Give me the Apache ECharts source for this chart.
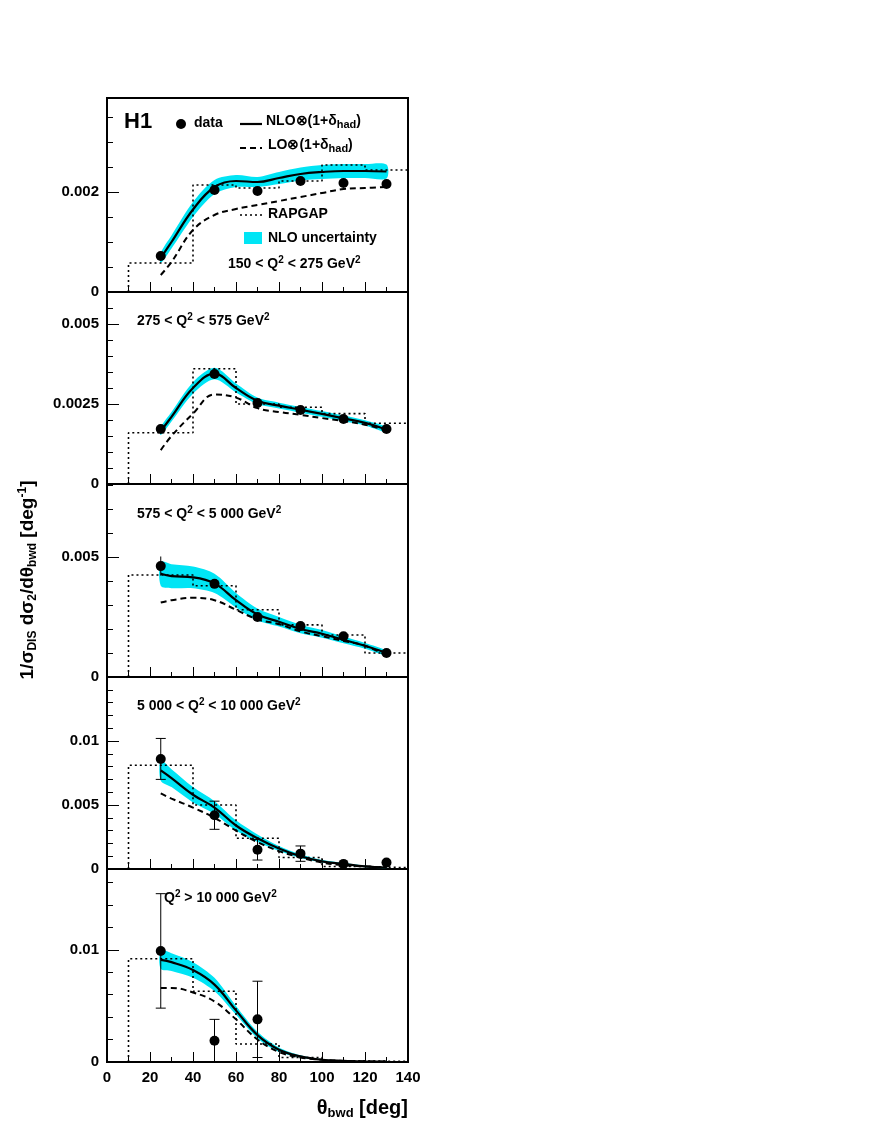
<!DOCTYPE html><html><head><meta charset="utf-8"><script src="https://cdn.jsdelivr.net/npm/echarts@6/dist/echarts.min.js"></script>
<style>body{margin:0;background:#fff}#c{width:884px;height:1144px}</style></head><body><div id="c"></div><script>
// ---- data ----
const dataX = [25,50,70,90,110,130];
const dataY = [
 [0.00072,0.00204,0.00202,0.00222,0.00218,0.00216],
 [0.00172,0.00344,0.00253,0.00231,0.00203,0.00172],
 [0.00462,0.00388,0.0025,0.00212,0.0017,0.0010],
 [0.0086,0.0042,0.0015,0.0012,0.0004,0.0005],
 [0.0099,0.0019,0.0038,null,null,null]
];
const dataErr = [
 [0.00004,0.00005,0.00005,0.00005,0.00005,0.00005],
 [0.00008,0.00008,0.00006,0.00006,0.00006,0.00005],
 [0.0004,0.00015,0.0001,0.0001,0.0001,0.00008],
 [0.0016,0.0011,0.0008,0.0006,0.0002,0.0002],
 [0.0051,0.0019,0.0034,null,null,null]
];
const curveX = [25,30,40,50,60,70,80,90,100,110,120,130];
const nlo = [
 [0.00068,0.0010,0.00165,0.0021,0.00222,0.00220,0.00228,0.00236,0.00240,0.00242,0.00242,0.00241],
 [0.00165,0.0021,0.0030,0.00345,0.0030,0.0026,0.00245,0.00232,0.00219,0.00205,0.00191,0.00170],
 [0.0043,0.0042,0.00415,0.0039,0.0032,0.0026,0.0023,0.0020,0.0018,0.00155,0.0013,0.0010],
 [0.0077,0.0071,0.0058,0.0048,0.0034,0.0024,0.0016,0.0010,0.0006,0.0004,0.0002,0.0001],
 [0.0091,0.0089,0.0082,0.0069,0.0046,0.0024,0.0011,0.0005,0.0002,0.0001,0.00005,0.00003]
];
const nloHalf = [
 [0.0001,0.00013,0.00015,0.00014,0.00012,0.0001,0.00012,0.00013,0.00014,0.00014,0.00014,0.00014],
 [0.00012,0.00015,0.00018,0.00018,0.00014,0.0001,0.00009,0.00009,0.00009,0.00009,0.00008,0.00008],
 [0.0005,0.0005,0.00045,0.0004,0.0003,0.00025,0.0002,0.00018,0.00016,0.00014,0.00012,0.0001],
 [0.0008,0.0007,0.0006,0.0005,0.0004,0.0003,0.0002,0.00015,0.0001,0.00008,0.00006,0.00004],
 [0.0008,0.0008,0.0007,0.0006,0.0004,0.0003,0.0002,0.0001,0.00005,0.00003,0.00002,0.00001]
];
const lo = [
 [0.00034,0.0006,0.00124,0.00154,0.00166,0.00174,0.00182,0.0019,0.00198,0.00206,0.00208,0.0021],
 [0.00106,0.0015,0.0022,0.0028,0.0027,0.00237,0.00225,0.00216,0.00206,0.00197,0.00185,0.00169],
 [0.0031,0.0032,0.0033,0.0032,0.0028,0.0024,0.0022,0.0019,0.0017,0.0015,0.0013,0.0009],
 [0.0059,0.0055,0.0048,0.0040,0.0030,0.0021,0.0014,0.0009,0.0005,0.0003,0.0002,0.0001],
 [0.0066,0.0066,0.0062,0.0054,0.0038,0.0020,0.0009,0.0004,0.0002,0.0001,0.00005,0.00003]
];
const binEdges = [10,40,60,80,100,120,140];
const rapgap = [
 [0.00058,0.00214,0.00208,0.00222,0.00254,0.00244],
 [0.0016,0.0036,0.0025,0.0024,0.0022,0.0019],
 [0.00425,0.0038,0.0028,0.00217,0.00175,0.001],
 [0.0081,0.005,0.0024,0.0009,0.0002,0.0001],
 [0.0092,0.0063,0.0016,0.0004,0.0001,0.00005]
];
const yMax = [0.00388,0.006,0.00804,0.015,0.0172];
const yInterval = [0.002,0.0025,0.005,0.005,0.01];
const yMinor = [4,5,5,5,5];
const xTicks = [0,20,40,60,80,100,120,140];
const panelLabels = ['150 < Q{s|2} < 275 GeV{s|2}','275 < Q{s|2} < 575 GeV{s|2}','575 < Q{s|2} < 5 000 GeV{s|2}','5 000 < Q{s|2} < 10 000 GeV{s|2}','Q{s|2} > 10 000 GeV{s|2}'];
// ---- layout ----
const tops=[98,292,484,677,869], H=[194,192,193,192,193];
const F='Liberation Sans, Arial, sans-serif';
const grids=[],xAxes=[],yAxes=[],series=[];
for(let p=0;p<5;p++){
 grids.push({left:107,width:301,top:tops[p],height:H[p],show:true,borderColor:'#000',borderWidth:2,backgroundColor:'transparent'});
 xAxes.push({gridIndex:p,type:'value',min:0,max:140,interval:20,axisLine:{show:false},
  axisTick:{inside:true,length:10,lineStyle:{color:'#000'}},minorTick:{show:true,splitNumber:2,length:5,lineStyle:{color:'#000'}},
  splitLine:{show:false},axisLabel:{show:p===4,color:'#000',fontFamily:F,fontWeight:'bold',fontSize:15,margin:8}});
 yAxes.push({gridIndex:p,type:'value',min:0,max:yMax[p],interval:yInterval[p],axisLine:{show:false},
  axisTick:{inside:true,length:12,lineStyle:{color:'#000'}},minorTick:{show:true,splitNumber:yMinor[p],length:6,lineStyle:{color:'#000'}},
  splitLine:{show:false},axisLabel:{color:'#000',fontFamily:F,fontWeight:'bold',fontSize:15,margin:8,showMaxLabel:false,
   formatter:v=>v===0?'0':String(+v.toFixed(5))}});
 const nl=nlo[p],hw=nloHalf[p];
 series.push({type:'custom',xAxisIndex:p,yAxisIndex:p,data:[0],z:1,silent:true,renderItem:(params,api)=>{
   const up=curveX.map((x,i)=>api.coord([x,nl[i]+hw[i]]));
   const dn=curveX.map((x,i)=>api.coord([x,Math.max(0,nl[i]-hw[i])])).reverse();
   return {type:'polygon',shape:{points:up.concat(dn),smooth:0.3},style:{fill:'#00e5f5'}};
 }});
 series.push({type:'line',xAxisIndex:p,yAxisIndex:p,data:curveX.map((x,i)=>[x,nl[i]]),smooth:0.4,symbol:'none',lineStyle:{color:'#000',width:2.2},z:3});
 series.push({type:'line',xAxisIndex:p,yAxisIndex:p,data:curveX.map((x,i)=>[x,lo[p][i]]),smooth:0.4,symbol:'none',lineStyle:{color:'#000',width:2,type:[6,4]},z:3});
 const rp=[[binEdges[0],0]];
 rapgap[p].forEach((v,i)=>{rp.push([binEdges[i],v]);rp.push([binEdges[i+1],v]);});
 series.push({type:'line',xAxisIndex:p,yAxisIndex:p,data:rp,symbol:'none',lineStyle:{color:'#000',width:1.6,type:[2,3]},z:2});
 const pts=[];dataX.forEach((x,i)=>{if(dataY[p][i]!=null)pts.push([x,dataY[p][i],dataErr[p][i]]);});
 series.push({type:'custom',xAxisIndex:p,yAxisIndex:p,data:pts,z:4,renderItem:(params,api)=>{
   const x=api.value(0),y=api.value(1),e=api.value(2);
   const c=api.coord([x,y]),a=api.coord([x,y+e]),b=api.coord([x,Math.max(0,y-e)]);
   const ch=[{type:'line',shape:{x1:a[0],y1:a[1],x2:b[0],y2:b[1]},style:{stroke:'#000',lineWidth:1}}];
   if(e>0.0004){ch.push({type:'line',shape:{x1:a[0]-5,y1:a[1],x2:a[0]+5,y2:a[1]},style:{stroke:'#000',lineWidth:1}});
    ch.push({type:'line',shape:{x1:b[0]-5,y1:b[1],x2:b[0]+5,y2:b[1]},style:{stroke:'#000',lineWidth:1}});}
   ch.push({type:'circle',shape:{cx:c[0],cy:c[1],r:5},style:{fill:'#000'}});
   return {type:'group',children:ch};
 }});
}
const T=(x,y,t,extra)=>Object.assign({type:'text',left:x,top:y,z:10,style:{text:t,font:'bold 14px '+F,fill:'#000',
 rich:{s:{fontSize:10,verticalAlign:'top',padding:[0,0,8,0],fontWeight:'bold',fontFamily:F},b:{fontSize:11,fontWeight:'bold',fontFamily:F,padding:[8,0,0,0]},n:{fontSize:14,fontWeight:'bold',fontFamily:F}}}},extra||{});
const graphic=[
 T(124,111,'H1',{style:{text:'H1',font:'bold 22px '+F,fill:'#000'}}),
 {type:'circle',shape:{cx:181,cy:124,r:5},style:{fill:'#000'},z:10},
 T(194,116,'data'),
 {type:'line',shape:{x1:240,y1:124,x2:262,y2:124},style:{stroke:'#000',lineWidth:2.2},z:10},
 T(266,114,'{n|NLO⊗(1+δ}{b|had}{n|)}'),
 {type:'line',shape:{x1:240,y1:148,x2:262,y2:148},style:{stroke:'#000',lineWidth:2,lineDash:[6,4]},z:10},
 T(268,138,'{n|LO⊗(1+δ}{b|had}{n|)}'),
 {type:'line',shape:{x1:240,y1:215,x2:262,y2:215},style:{stroke:'#000',lineWidth:1.6,lineDash:[2,3]},z:10},
 T(268,207,'RAPGAP'),
 {type:'rect',shape:{x:244,y:232,width:18,height:12},style:{fill:'#00e5f5'},z:10},
 T(268,231,'NLO uncertainty'),
 T(228,255,panelLabels[0]),
 T(137,312,panelLabels[1]),
 T(137,505,panelLabels[2]),
 T(137,697,panelLabels[3]),
 T(164,889,panelLabels[4]),
 {type:'text',x:28,y:580,rotation:Math.PI/2,z:10,style:{text:'{n|1/σ}{b|DIS}{n| dσ}{b|2}{n|/dθ}{b|bwd}{n| [deg}{s|-1}{n|]}',align:'center',verticalAlign:'middle',
  rich:{n:{fontSize:19,fontWeight:'bold',fontFamily:F},b:{fontSize:12,fontWeight:'bold',fontFamily:F,padding:[10,0,0,0]},s:{fontSize:12,fontWeight:'bold',fontFamily:F,padding:[0,0,10,0]}}}},
 {type:'text',x:408,y:1108,z:10,style:{text:'{n|θ}{b|bwd}{n| [deg]}',align:'right',verticalAlign:'middle',
  rich:{n:{fontSize:20,fontWeight:'bold',fontFamily:F},b:{fontSize:13,fontWeight:'bold',fontFamily:F,padding:[10,0,0,0]}}}}
];
const ch=echarts.init(document.getElementById('c'));
ch.setOption({animation:false,grid:grids,xAxis:xAxes,yAxis:yAxes,series,graphic});
</script></body></html>
